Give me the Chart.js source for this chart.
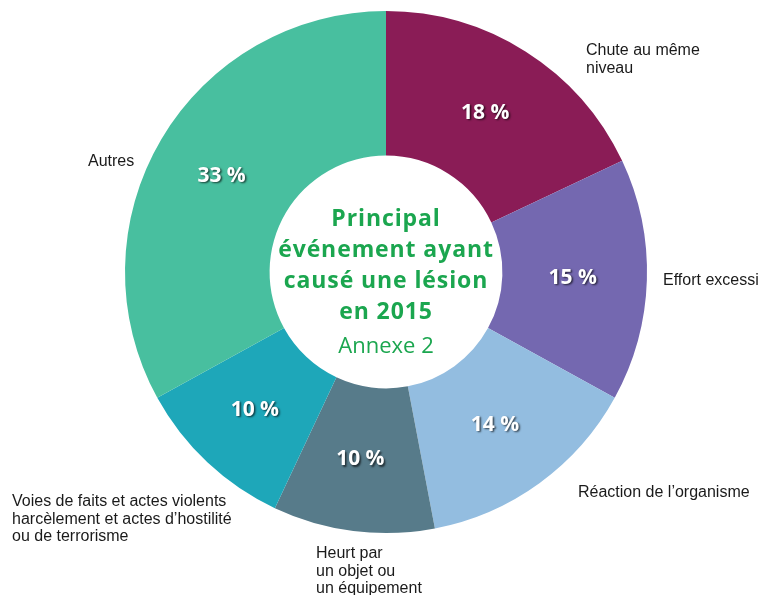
<!DOCTYPE html>
<html>
<head>
<meta charset="utf-8">
<script src="https://cdn.jsdelivr.net/npm/chart.js@4.4.0/dist/chart.umd.min.js"></script>
<style>
html, body { margin: 0; padding: 0; background: #fff; }
#wrap { width: 762px; height: 595px; position: relative; }
</style>
</head>
<body>
<div id="wrap"><canvas id="pie"></canvas></div>
<script>
// données du graphique (sens horaire depuis midi)
const categories = ['Chute au même niveau', 'Effort excessi', 'Réaction de l’organisme', 'Heurt par un objet ou un équipement', 'Voies de faits et actes violents harcèlement et actes d’hostilité ou de terrorisme', 'Autres'];
const labelLines = [
    ['Chute au même', 'niveau'],
    ['Effort excessi'],
    ['Réaction de l’organisme'],
    ['Heurt par', 'un objet ou', 'un équipement'],
    ['Voies de faits et actes violents', 'harcèlement et actes d’hostilité', 'ou de terrorisme'],
    ['Autres']
];
const percents = [18, 15, 14, 10, 10, 33];
const sliceColors = ['#8a1c56', '#7468b0', '#93bde0', '#577b8a', '#1ea7b9', '#48bf9f'];
const centerTitle = ['Principal', 'événement ayant', 'causé une lésion', 'en 2015'];
const centerSub = 'Annexe 2';

// position des étiquettes extérieures (décalage depuis le centre, 1re ligne de base)
const labelAnchors = [
    { dx: 200, dy: -217 },
    { dx: 277, dy: 13 },
    { dx: 192, dy: 225 },
    { dx: -70, dy: 286 },
    { dx: -374, dy: 234 },
    { dx: -298, dy: -106 }
];

const textPlugin = {
    id: 'textPlugin',
    afterDatasetsDraw(chart) {
        const ctx = chart.ctx;
        const meta = chart.getDatasetMeta(0);
        const cx = (chart.chartArea.left + chart.chartArea.right) / 2;
        const cy = (chart.chartArea.top + chart.chartArea.bottom) / 2;

        // pourcentages dans les tranches
        ctx.save();
        ctx.font = 'bold 21px "Open Sans"';
        ctx.textAlign = 'center';
        ctx.textBaseline = 'middle';
        ctx.fillStyle = '#ffffff';
        ctx.shadowColor = 'rgba(0,0,0,0.65)';
        ctx.shadowOffsetX = 1.5;
        ctx.shadowOffsetY = 1.5;
        ctx.shadowBlur = 2;
        meta.data.forEach((arc, i) => {
            const p = arc.tooltipPosition();
            ctx.fillText(percents[i] + ' %', p.x - 2, p.y);
        });
        ctx.restore();

        // étiquettes extérieures
        ctx.save();
        ctx.font = '16px "Liberation Sans"';
        ctx.fillStyle = '#1a1a1a';
        ctx.textAlign = 'left';
        ctx.textBaseline = 'alphabetic';
        labelLines.forEach((lines, i) => {
            const a = labelAnchors[i];
            lines.forEach((line, k) => {
                ctx.fillText(line, cx + a.dx, cy + a.dy + k * 17.7);
            });
        });
        ctx.restore();

        // titre au centre
        ctx.save();
        ctx.fillStyle = '#1ba64f';
        ctx.textAlign = 'center';
        ctx.textBaseline = 'alphabetic';
        ctx.font = 'bold 23px "Open Sans"';
        ctx.letterSpacing = '0.9px';
        centerTitle.forEach((line, k) => {
            ctx.fillText(line, cx, cy - 46 + k * 31);
        });
        ctx.font = '22px "Open Sans"';
        ctx.letterSpacing = '0px';
        ctx.fillText(centerSub, cx, cy + 81);
        ctx.restore();
    }
};

const ctx = document.getElementById('pie').getContext('2d');
new Chart(ctx, {
    type: 'doughnut',
    data: {
        labels: categories,
        datasets: [{
            data: percents,
            backgroundColor: sliceColors,
            borderWidth: 0
        }]
    },
    options: {
        responsive: true,
        maintainAspectRatio: false,
        animation: false,
        cutout: '44.6%',
        layout: {
            padding: { left: 125, right: 115, top: 11, bottom: 62 }
        },
        plugins: {
            legend: { display: false },
            tooltip: { enabled: false }
        }
    },
    plugins: [textPlugin]
});
</script>
</body>
</html>
